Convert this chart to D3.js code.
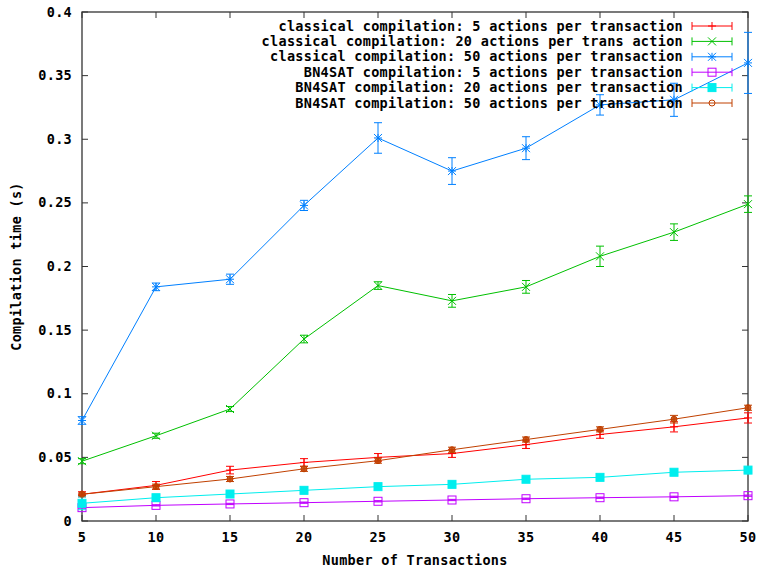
<!DOCTYPE html>
<html>
<head>
<meta charset="utf-8">
<script src="https://cdn.jsdelivr.net/npm/d3@7"></script>
<style>
  body { margin: 0; background: #fff; }
  text { font-family: "DejaVu Sans Mono", monospace; font-weight: bold; font-size: 13.5px; letter-spacing: 0.3px; fill: #000; }
</style>
</head>
<body>
<div id="chart"></div>
<script>
// Data
const transactions = [5, 10, 15, 20, 25, 30, 35, 40, 45, 50];
const xTickLabels = ["5", "10", "15", "20", "25", "30", "35", "40", "45", "50"];
const yTickValues = [0, 0.05, 0.1, 0.15, 0.2, 0.25, 0.3, 0.35, 0.4];
const yTickLabels = ["0", "0.05", "0.1", "0.15", "0.2", "0.25", "0.3", "0.35", "0.4"];

const seriesNames = [
    "classical compilation: 5 actions per transaction",
    "classical compilation: 20 actions per trans action",
    "classical compilation: 50 actions per transaction",
    "BN4SAT compilation: 5 actions per transaction",
    "BN4SAT compilation: 20 actions per transaction",
    "BN4SAT compilation: 50 actions per transaction"
];
const seriesColors = ["#ff0000", "#00c000", "#0080ff", "#c000ff", "#00eeee", "#c04000"];
const seriesMarkers = ["plus", "cross", "star", "square", "filledSquare", "circle"];

const classical5 = [0.021, 0.028, 0.040, 0.046, 0.050, 0.053, 0.060, 0.068, 0.074, 0.081];
const classical5Err = [0.002, 0.003, 0.003, 0.003, 0.003, 0.003, 0.003, 0.003, 0.004, 0.004];
const classical20 = [0.047, 0.067, 0.088, 0.143, 0.185, 0.173, 0.184, 0.208, 0.227, 0.249];
const classical20Err = [0.002, 0.002, 0.002, 0.003, 0.003, 0.005, 0.005, 0.008, 0.0065, 0.0065];
const classical50 = [0.079, 0.184, 0.190, 0.248, 0.301, 0.275, 0.293, 0.327, 0.331, 0.360];
const classical50Err = [0.003, 0.003, 0.004, 0.004, 0.012, 0.0105, 0.009, 0.008, 0.013, 0.024];
const bn5 = [0.0105, 0.0123, 0.0134, 0.0144, 0.0155, 0.0165, 0.0175, 0.0183, 0.019, 0.0199];
const bn5Err = [0.0005, 0.0005, 0.0005, 0.0005, 0.0005, 0.0005, 0.0005, 0.0005, 0.0005, 0.0005];
const bn20 = [0.0139, 0.0183, 0.0212, 0.0241, 0.027, 0.0288, 0.0328, 0.0343, 0.0383, 0.040];
const bn20Err = [0.005, 0.001, 0.001, 0.001, 0.001, 0.001, 0.001, 0.001, 0.001, 0.001];
const bn50 = [0.021, 0.027, 0.033, 0.041, 0.0474, 0.056, 0.064, 0.072, 0.080, 0.089];
const bn50Err = [0.001, 0.002, 0.002, 0.002, 0.002, 0.002, 0.002, 0.002, 0.003, 0.002];

const seriesValues = [classical5, classical20, classical50, bn5, bn20, bn50];
const seriesErrors = [classical5Err, classical20Err, classical50Err, bn5Err, bn20Err, bn50Err];

const fullWidth = 761, fullHeight = 568;
const margin = { top: 12, right: 13, bottom: 47, left: 82 };
const width = fullWidth - margin.left - margin.right,
    height = fullHeight - margin.top - margin.bottom;

const svg = d3.select("#chart")
    .append("svg")
    .attr("width", fullWidth)
    .attr("height", fullHeight)
    .style("background", "#fff");

const g = svg.append("g")
    .attr("transform", `translate(${margin.left},${margin.top})`);

const x = d3.scaleLinear().domain([5, 50]).range([0, width]);
const y = d3.scaleLinear().domain([0, 0.4]).range([height, 0]);

// Ticks (inward, mirrored on all sides)
const tickLen = 6;
const axisColor = "#333";
g.selectAll(".xtick")
    .data(transactions)
    .join("g")
    .each(function(d, i) {
        const t = d3.select(this);
        t.append("line").attr("x1", x(d)).attr("x2", x(d)).attr("y1", height).attr("y2", height - tickLen).attr("stroke", axisColor);
        t.append("line").attr("x1", x(d)).attr("x2", x(d)).attr("y1", 0).attr("y2", tickLen).attr("stroke", axisColor);
        t.append("text").attr("x", x(d)).attr("y", height + 21).attr("text-anchor", "middle").text(xTickLabels[i]);
    });

g.selectAll(".ytick")
    .data(yTickValues)
    .join("g")
    .each(function(d, i) {
        const t = d3.select(this);
        t.append("line").attr("x1", 0).attr("x2", tickLen).attr("y1", y(d)).attr("y2", y(d)).attr("stroke", axisColor);
        t.append("line").attr("x1", width).attr("x2", width - tickLen).attr("y1", y(d)).attr("y2", y(d)).attr("stroke", axisColor);
        t.append("text").attr("x", -10).attr("y", y(d) + 4.5).attr("text-anchor", "end").text(yTickLabels[i]);
    });

// Border
g.append("rect")
    .attr("x", 0).attr("y", 0)
    .attr("width", width).attr("height", height)
    .attr("fill", "none")
    .attr("stroke", axisColor)
    .attr("stroke-width", 1.3);

// Axis labels
svg.append("text")
    .attr("text-anchor", "middle")
    .attr("transform", `translate(21,${margin.top + height / 2}) rotate(-90)`)
    .text("Compilation time (s)");

svg.append("text")
    .attr("text-anchor", "middle")
    .attr("x", margin.left + width / 2)
    .attr("y", 565)
    .text("Number of Transactions");

// Markers
function drawMarker(sel, type, cx, cy, color, inLegend) {
    const s = 4;
    if (type === "plus" || type === "star") {
        sel.append("line").attr("x1", cx - s).attr("x2", cx + s).attr("y1", cy).attr("y2", cy).attr("stroke", color);
        sel.append("line").attr("x1", cx).attr("x2", cx).attr("y1", cy - s).attr("y2", cy + s).attr("stroke", color);
    }
    if (type === "cross" || type === "star") {
        sel.append("line").attr("x1", cx - s).attr("x2", cx + s).attr("y1", cy - s).attr("y2", cy + s).attr("stroke", color);
        sel.append("line").attr("x1", cx - s).attr("x2", cx + s).attr("y1", cy + s).attr("y2", cy - s).attr("stroke", color);
    }
    if (type === "square") {
        sel.append("rect").attr("x", cx - s).attr("y", cy - s).attr("width", 2 * s).attr("height", 2 * s)
            .attr("fill", "none").attr("stroke", color);
    }
    if (type === "filledSquare") {
        sel.append("rect").attr("x", cx - s).attr("y", cy - s).attr("width", 2 * s).attr("height", 2 * s)
            .attr("fill", color).attr("stroke", color);
    }
    if (type === "circle") {
        sel.append("circle").attr("cx", cx).attr("cy", cy).attr("r", 3)
            .attr("fill", inLegend ? "none" : color).attr("fill-opacity", 0.85).attr("stroke", color);
    }
}

const line = d3.line()
    .x((d, i) => x(transactions[i]))
    .y(d => y(d));

const capW = 4;
seriesValues.forEach(function(values, k) {
    const color = seriesColors[k];
    const sg = g.append("g").attr("class", "series");
    sg.append("path")
        .datum(values)
        .attr("fill", "none")
        .attr("stroke", color)
        .attr("stroke-width", 1)
        .attr("d", line);

    // Error bars
    values.forEach(function(v, i) {
        const cx = x(transactions[i]);
        const e = seriesErrors[k][i];
        const y0 = y(v - e), y1 = y(v + e);
        sg.append("line").attr("x1", cx).attr("x2", cx).attr("y1", y0).attr("y2", y1).attr("stroke", color);
        sg.append("line").attr("x1", cx - capW).attr("x2", cx + capW).attr("y1", y0).attr("y2", y0).attr("stroke", color);
        sg.append("line").attr("x1", cx - capW).attr("x2", cx + capW).attr("y1", y1).attr("y2", y1).attr("stroke", color);
        drawMarker(sg, seriesMarkers[k], cx, y(v), color, false);
    });
});

// Legend
const legendTextX = 683, sampleX0 = 692, sampleX1 = 732, legendY0 = 26, legendStep = 15.4;
seriesNames.forEach(function(name, k) {
    const ly = legendY0 + k * legendStep;
    const color = seriesColors[k];
    const lg = svg.append("g").attr("class", "legend");
    lg.append("text").attr("x", legendTextX).attr("y", ly + 4.5).attr("text-anchor", "end").text(name);
    lg.append("line").attr("x1", sampleX0).attr("x2", sampleX1).attr("y1", ly).attr("y2", ly).attr("stroke", color);
    lg.append("line").attr("x1", sampleX0).attr("x2", sampleX0).attr("y1", ly - 4).attr("y2", ly + 4).attr("stroke", color);
    lg.append("line").attr("x1", sampleX1).attr("x2", sampleX1).attr("y1", ly - 4).attr("y2", ly + 4).attr("stroke", color);
    drawMarker(lg, seriesMarkers[k], (sampleX0 + sampleX1) / 2, ly, color, true);
});
</script>
</body>
</html>
